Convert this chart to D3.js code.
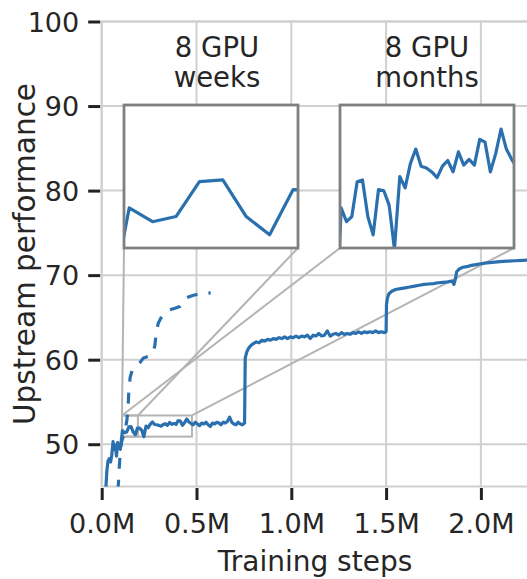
<!DOCTYPE html>
<html>
<head>
<meta charset="utf-8">
<script src="https://cdn.jsdelivr.net/npm/d3@7"></script>
<style>
  html, body { margin: 0; padding: 0; background: #fff; }
  svg { display: block; font-family: "DejaVu Sans", sans-serif; }
</style>
</head>
<body>
<svg id="chart" width="527" height="579"></svg>
<script>
// main run: training steps (millions) and upstream performance
const steps = [
  0.022, 0.027, 0.033, 0.040, 0.047, 0.053, 0.060, 0.066, 0.072, 0.078, 0.084, 0.090, 0.098,
  0.1095, 0.1208, 0.1321, 0.1434, 0.1547, 0.1660, 0.1773, 0.1886, 0.1999, 0.2112,
  0.2225, 0.2338, 0.2451, 0.2564, 0.2677, 0.2790, 0.2903, 0.3016, 0.3129, 0.3242,
  0.3355, 0.3468, 0.3581, 0.3694, 0.3807, 0.3920, 0.4033, 0.4146, 0.4259, 0.4372,
  0.4485, 0.4598, 0.4711, 0.4824, 0.4937, 0.5050, 0.5163, 0.5276, 0.5389, 0.5502,
  0.5615, 0.5728, 0.5841, 0.5954, 0.6067, 0.6180, 0.6293, 0.6406, 0.6519, 0.6632,
  0.6745, 0.6858, 0.6971, 0.7084, 0.7197, 0.7310, 0.7423, 0.7536,
  0.7570, 0.7650, 0.7760, 0.7880, 0.8000, 0.8150, 0.8300, 0.8450, 0.8600, 0.8750,
  0.8900, 0.9050, 0.9200, 0.9350, 0.9500, 0.9650, 0.9800, 0.9950, 1.0100, 1.0250,
  1.0400, 1.0550, 1.0700, 1.0850, 1.1000, 1.1150, 1.1300, 1.1450, 1.1600, 1.1750,
  1.1900, 1.2050, 1.2200, 1.2350, 1.2500, 1.2650, 1.2800, 1.2950, 1.3100, 1.3250,
  1.3400, 1.3550, 1.3700, 1.3850, 1.4000, 1.4150, 1.4300, 1.4450, 1.4600, 1.4750,
  1.4900, 1.5000, 1.5020, 1.5070, 1.5150, 1.5300, 1.5500, 1.5750, 1.6000, 1.6250,
  1.6500, 1.6750, 1.7000, 1.7250, 1.7500, 1.7750, 1.8000, 1.8250, 1.8480, 1.8580,
  1.8660, 1.8720, 1.8850, 1.9000, 1.9250, 1.9500, 1.9750, 2.0000, 2.0300, 2.0600,
  2.1000, 2.1400, 2.1800, 2.2200, 2.2600
];
const perf = [
  44.8, 46.8, 48.0, 48.3, 47.9, 48.7, 50.3, 49.4, 49.9, 48.6, 50.2, 49.6, 49.4,
  51.60, 51.36, 51.45, 52.06, 52.09, 51.45, 51.13, 51.92, 51.90, 51.65,
  50.88, 52.15, 51.95, 52.38, 52.63, 52.33, 52.30, 52.23, 52.13, 52.33,
  52.43, 52.23, 52.58, 52.35, 52.45, 52.35, 52.80, 52.75, 52.23, 52.55,
  52.98, 52.63, 52.45, 52.3, 52.6, 52.4, 52.2, 52.5, 52.4, 52.6,
  52.3, 52.1, 52.5, 52.4, 52.6, 52.5, 52.3, 52.6, 52.5, 52.7,
  53.2, 52.6, 52.4, 52.3, 52.6, 52.4, 52.3, 52.5,
  60.2, 60.9, 61.4, 61.7, 61.9, 62.1, 62.0, 62.3, 62.2, 62.4,
  62.3, 62.5, 62.4, 62.6, 62.5, 62.7, 62.5, 62.7, 62.6, 62.8,
  62.6, 62.8, 62.7, 62.9, 62.5, 62.9, 62.8, 63.1, 62.8, 62.9,
  63.4, 62.8, 63.0, 63.1, 62.9, 63.2, 63.0, 63.1, 63.0, 63.2,
  63.1, 63.3, 63.1, 63.3, 63.2, 63.3, 63.2, 63.4, 63.2, 63.3,
  63.2, 63.3, 66.5, 67.3, 67.8, 68.1, 68.3, 68.4, 68.5, 68.6,
  68.7, 68.8, 68.9, 68.95, 69.0, 69.1, 69.15, 69.2, 69.3, 68.9,
  69.6, 70.4, 70.7, 70.9, 71.0, 71.15, 71.25, 71.35, 71.45, 71.5,
  71.6, 71.65, 71.7, 71.75, 71.8
];

// dashed run
const dashSteps = [
  0.086, 0.092, 0.098, 0.105, 0.115, 0.125, 0.133, 0.139, 0.143, 0.150,
  0.160, 0.180, 0.200, 0.220, 0.245, 0.265, 0.280, 0.288, 0.298, 0.316,
  0.340, 0.360, 0.390, 0.413, 0.430, 0.445, 0.480, 0.518, 0.575
];
const dashPerf = [
  44.5, 47.0, 49.2, 50.3, 51.0, 51.8, 52.9, 54.3, 56.2, 57.9,
  58.7, 59.1, 59.6, 60.2, 60.4, 60.6, 61.6, 63.2, 64.3, 65.1,
  65.6, 65.9, 66.1, 66.3, 66.8, 67.3, 67.6, 67.8, 67.9
];

const xTicks = [0, 0.5, 1.0, 1.5, 2.0];
const yTicks = [50, 60, 70, 80, 90, 100];

const insetTitles = [["8 GPU", "weeks"], ["8 GPU", "months"]];
const insetStepRanges = [[0.107, 0.191], [0.107, 0.476]];
const insetPerfRange = [50.9, 53.4];

const blue = "#2b70ae";
const textColor = "#262626";
const gridColor = "#d0d0d0";

const svg = d3.select("#chart");
const plot = { left: 101.7, right: 528.3, top: 21.5, bottom: 486.5 };

const x = d3.scaleLinear().domain([0, 2.25]).range([plot.left, plot.right]);
const y = d3.scaleLinear().domain([45, 100]).range([plot.bottom, plot.top]);

const mainData = steps.map((s, i) => [s, perf[i]]);
const dashData = dashSteps.map((s, i) => [s, dashPerf[i]]);

const defs = svg.append("defs");
defs.append("clipPath").attr("id", "clip-main")
  .append("rect")
  .attr("x", plot.left).attr("y", plot.top)
  .attr("width", plot.right - plot.left).attr("height", plot.bottom - plot.top);

// grid
const grid = svg.append("g");
grid.selectAll(".gx").data(xTicks).enter().append("line")
  .attr("x1", d => x(d)).attr("x2", d => x(d))
  .attr("y1", plot.top).attr("y2", plot.bottom)
  .attr("stroke", gridColor).attr("stroke-width", 2);
grid.selectAll(".gy").data(yTicks).enter().append("line")
  .attr("x1", plot.left).attr("x2", plot.right)
  .attr("y1", d => y(d)).attr("y2", d => y(d))
  .attr("stroke", gridColor).attr("stroke-width", 2);
grid.append("rect")
  .attr("x", plot.left).attr("y", plot.top)
  .attr("width", plot.right - plot.left).attr("height", plot.bottom - plot.top)
  .attr("fill", "none").attr("stroke", gridColor).attr("stroke-width", 2);

// inset boxes (pixel layout)
const insetBoxes = [
  { x: 124, y: 105, w: 174, h: 143, titleX: 217 },
  { x: 340, y: 105, w: 174, h: 143, titleX: 427 }
];

// zoom markers and connectors
const markers = svg.append("g");
insetStepRanges.forEach((r, i) => {
  const b = insetBoxes[i];
  const x0 = x(r[0]), x1 = x(r[1]);
  const y0 = y(insetPerfRange[1]), y1 = y(insetPerfRange[0]);
  markers.append("rect")
    .attr("x", x0).attr("y", y0).attr("width", x1 - x0).attr("height", y1 - y0)
    .attr("fill", "none").attr("stroke", "#b4b4b4").attr("stroke-width", 2);
  markers.append("line")
    .attr("x1", b.x).attr("y1", b.y + b.h).attr("x2", x0).attr("y2", y0)
    .attr("stroke", "#b4b4b4").attr("stroke-width", 2);
  markers.append("line")
    .attr("x1", b.x + b.w).attr("y1", b.y + b.h).attr("x2", x1).attr("y2", y0)
    .attr("stroke", "#b4b4b4").attr("stroke-width", 2);
});

const line = d3.line().x(d => x(d[0])).y(d => y(d[1]));

svg.append("path")
  .datum(dashData)
  .attr("clip-path", "url(#clip-main)")
  .attr("fill", "none")
  .attr("stroke", blue)
  .attr("stroke-width", 3.2)
  .attr("stroke-dasharray", "11,11")
  .attr("d", line);

svg.append("path")
  .datum(mainData)
  .attr("clip-path", "url(#clip-main)")
  .attr("fill", "none")
  .attr("stroke", blue)
  .attr("stroke-width", 3.2)
  .attr("stroke-linejoin", "round")
  .attr("d", line);

// insets
insetStepRanges.forEach((r, i) => {
  const b = insetBoxes[i];
  const ix = d3.scaleLinear().domain(r).range([b.x, b.x + b.w]);
  const iy = d3.scaleLinear().domain(insetPerfRange).range([b.y + b.h, b.y]);
  defs.append("clipPath").attr("id", "clip-inset" + i)
    .append("rect").attr("x", b.x).attr("y", b.y).attr("width", b.w).attr("height", b.h);

  const g = svg.append("g");
  g.append("rect")
    .attr("x", b.x).attr("y", b.y).attr("width", b.w).attr("height", b.h)
    .attr("fill", "#fff");
  g.append("path")
    .datum(mainData)
    .attr("clip-path", `url(#clip-inset${i})`)
    .attr("fill", "none")
    .attr("stroke", blue)
    .attr("stroke-width", 3.2)
    .attr("stroke-linejoin", "round")
    .attr("d", d3.line().x(d => ix(d[0])).y(d => iy(d[1])));
  g.append("rect")
    .attr("x", b.x).attr("y", b.y).attr("width", b.w).attr("height", b.h)
    .attr("fill", "none").attr("stroke", "#808080").attr("stroke-width", 2.8);

  const t = g.append("text")
    .attr("text-anchor", "middle")
    .attr("font-size", 27.5)
    .attr("fill", textColor);
  t.append("tspan").attr("x", b.titleX).attr("y", 57).text(insetTitles[i][0]);
  t.append("tspan").attr("x", b.titleX).attr("y", 87).text(insetTitles[i][1]);
});

// axes
const xAxis = d3.axisBottom(x)
  .tickValues(xTicks)
  .tickSize(12)
  .tickFormat(d => d.toFixed(1) + "M");
const gx = svg.append("g")
  .attr("transform", `translate(0,${plot.bottom + 1.5})`)
  .call(xAxis);
gx.select(".domain").remove();
gx.attr("font-size", 27).attr("font-family", "DejaVu Sans");
gx.selectAll(".tick line").attr("stroke", "#222").attr("stroke-width", 3);
gx.selectAll(".tick text").attr("y", 44.5).attr("dy", 0).attr("fill", textColor);

const yAxis = d3.axisLeft(y)
  .tickValues(yTicks)
  .tickSize(12)
  .tickFormat(d3.format("d"));
const gy = svg.append("g")
  .attr("transform", `translate(${plot.left - 1.5},0)`)
  .call(yAxis);
gy.select(".domain").remove();
gy.attr("font-size", 27).attr("font-family", "DejaVu Sans");
gy.selectAll(".tick line").attr("stroke", "#222").attr("stroke-width", 3);
gy.selectAll(".tick text").attr("x", -21).attr("dy", "0.36em").attr("fill", textColor);

svg.append("text")
  .attr("x", (plot.left + plot.right) / 2)
  .attr("y", 571)
  .attr("text-anchor", "middle")
  .attr("font-size", 28)
  .attr("fill", textColor)
  .text("Training steps");

svg.append("text")
  .attr("transform", `translate(35,${(plot.top + plot.bottom) / 2}) rotate(-90)`)
  .attr("text-anchor", "middle")
  .attr("font-size", 29.5)
  .attr("fill", textColor)
  .text("Upstream performance");
</script>
</body>
</html>
